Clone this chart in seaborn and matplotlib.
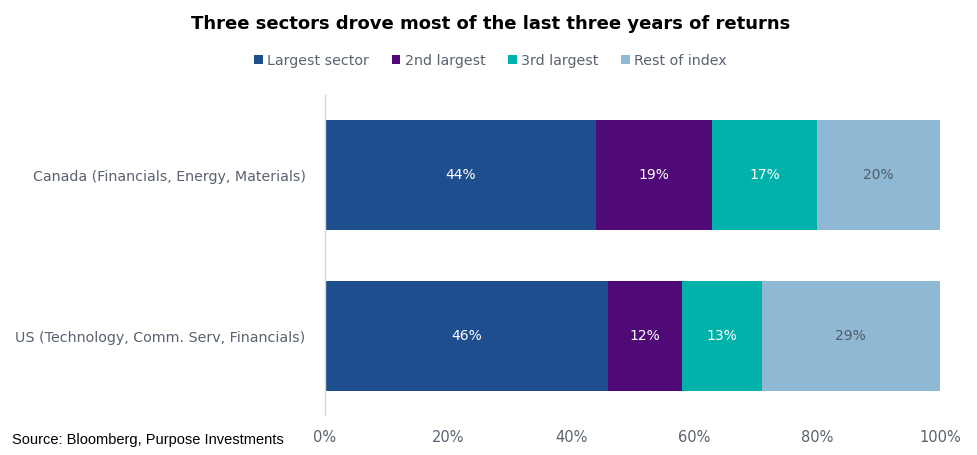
import matplotlib
matplotlib.use("Agg")
import matplotlib.pyplot as plt
import seaborn as sns
import pandas as pd
import numpy as np
from matplotlib.patches import Patch

categories = ["Canada (Financials, Energy, Materials)", "US (Technology, Comm. Serv, Financials)"]
series_names = ["Largest sector", "2nd largest", "3rd largest", "Rest of index"]
largest = [44, 46]
second = [19, 12]
third = [17, 13]
rest = [20, 29]
tick_labels = ["0%", "20%", "40%", "60%", "80%", "100%"]

colors = ["#1F4E8F", "#500A78", "#00B2A9", "#8FB8D4"]
label_colors = ["white", "white", "white", "#555B66"]
text_gray = "#5A6270"

sns.set_theme(style="white")
plt.rcParams['font.family'] = ['DejaVu Sans']

fig = plt.figure(figsize=(9.77, 4.55), dpi=100)
ax = fig.add_axes([0.3327, 0.0879, 0.6294, 0.7033])

vals = np.array([largest, second, third, rest], dtype=float)
cum = np.cumsum(vals, axis=0)

# draw from the full stack down so that each layer overlays the previous
for i in range(3, -1, -1):
    df = pd.DataFrame({"cat": categories, "val": cum[i]})
    sns.barplot(data=df, x="val", y="cat", color=colors[i], width=0.685,
                ax=ax, orient="h", saturation=1, edgecolor="none")

for j in range(len(categories)):
    for i in range(4):
        left = cum[i][j] - vals[i][j]
        ax.text(left + vals[i][j] / 2, j, f"{int(vals[i][j])}%", ha="center", va="center",
                color=label_colors[i], fontsize=10)

ax.set_xlim(0, 100)
ax.set_ylim(1.49, -0.5)
ax.set_xticks([0, 20, 40, 60, 80, 100])
ax.set_xticklabels(tick_labels)
ax.set_xlabel("")
ax.set_ylabel("")
ax.tick_params(axis="x", colors=text_gray, labelsize=10.5, length=0, pad=11)
ax.tick_params(axis="y", colors=text_gray, labelsize=10.3, length=0, pad=14)
for s in ["top", "right", "bottom"]:
    ax.spines[s].set_visible(False)
ax.spines["left"].set_color("#D9D9D9")
ax.spines["left"].set_linewidth(1)
ax.grid(False)

fig.text(0.502, 0.948, "Three sectors drove most of the last three years of returns",
         ha="center", va="center", fontsize=13, fontweight="bold", color="black")

handles = [Patch(facecolor=c, edgecolor="none") for c in colors]
fig.legend(handles, series_names, loc="center", bbox_to_anchor=(0.502, 0.866), ncol=4,
           frameon=False, fontsize=10.3, handlelength=0.6, handleheight=0.6,
           handletextpad=0.3, columnspacing=1.6, labelcolor=text_gray)

fig.text(0.012, 0.033, "Source: Bloomberg, Purpose Investments", ha="left", va="center",
         fontsize=10.5, color="black", family=["Liberation Sans", "DejaVu Sans"])

fig.savefig("out.png", dpi=100)
